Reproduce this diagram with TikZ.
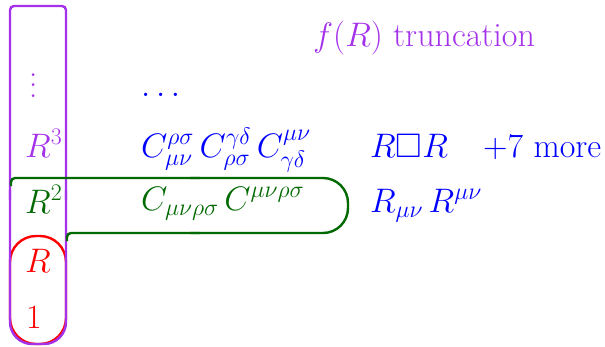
\RequirePackage{fix-cm}
\documentclass[tikz,border=0pt]{standalone}
\usepackage{amssymb}
\usepackage{graphicx}
\definecolor{purp}{RGB}{165,50,235}
\definecolor{grn}{RGB}{0,105,0}
\definecolor{blu}{RGB}{0,0,255}
\definecolor{rd}{RGB}{255,0,0}
\tikzset{
  lbl/.style={inner sep=0pt, anchor=base west, font=\fontsize{34}{40}\selectfont},
  frame/.style={line width=2.4pt},
}
\begin{document}
\begin{tikzpicture}[x=1pt,y=-1pt]
\useasboundingbox (0,0) rectangle (605,346);

% order 0 and 1: red capsule
\draw[frame,rd,rounded corners=26] (10,236) rectangle (66,344);

% f(R) column: purple frame, small top corners, round bottom
\draw[frame,purp,rounded corners=4] (10,200) -- (10,6) -- (66,6) -- (66,200);
\draw[frame,purp,rounded corners=22] (10,190) -- (10,344) -- (66,344) -- (66,190);

% quadratic truncation: green outline
\draw[frame,grn,rounded corners=4] (11,186) -- (11,178) -- (200,178);
\draw[frame,grn,rounded corners=25] (190,178) -- (348,178) -- (348,233) -- (190,233);
\draw[frame,grn,rounded corners=4] (200,233) -- (67,233) -- (67,241);

% title
\node[lbl,purp] (title) at (313,46) {$f(R)$ truncation};

% first column: powers of curvature
\node[lbl,purp] (dd) at (29.5,97) {\scalebox{2.6}{\fontsize{10}{12}\selectfont$\vdots$}};
\node[lbl,purp] (r3) at (25,157) {$R^3$};
\node[lbl,grn]  (r2) at (25,213) {$R^2$};
\node[lbl,rd]   (r1) at (25,272) {$R$};
\node[lbl,rd]   (r0) at (26,328) {$1$};

% second column: Weyl invariants
\node[lbl,blu] (cd) at (141,96) {$\dots$};
\node[lbl,blu] (c3) at (141,157) {$C^{\rho\sigma}_{\mu\nu}\,C^{\gamma\delta}_{\rho\sigma}\,C^{\mu\nu}_{\gamma\delta}$};
\node[lbl,grn] (c2) at (141,210) {$C_{\mu\nu\rho\sigma}\,C^{\mu\nu\rho\sigma}$};

% third column: Ricci invariants
\node[lbl,blu] (rbr) at (370,157) {$R\square R$};
\node[lbl,blu] (more) at (483,157) {$+7$ more};
\node[lbl,blu] (ric) at (370,212) {$R_{\mu\nu}\,R^{\mu\nu}$};
\end{tikzpicture}
\end{document}
